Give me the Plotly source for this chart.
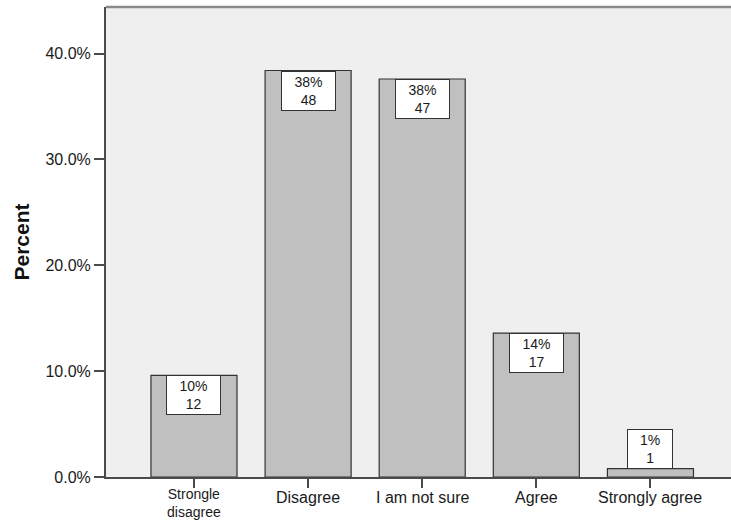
import plotly.graph_objects as go

# Survey response counts by answer category
categories = ["Strongle<br>disagree", "Disagree", "I am not sure", "Agree", "Strongly agree"]
counts = [12, 48, 47, 17, 1]
y_ticks = [0, 10, 20, 30, 40]
y_tick_labels = ["0.0%", "10.0%", "20.0%", "30.0%", "40.0%"]

total = sum(counts)
percents = [c / total * 100 for c in counts]

FONT = "Liberation Sans, Arial, sans-serif"
AXIS_COLOR = "#4a4a4a"
TEXT_COLOR = "#1a1a1a"
FS = 16
LABEL_FS = 14

fig = go.Figure()
fig.add_trace(go.Bar(
    x=list(range(len(categories))),
    y=percents,
    width=0.754,
    marker=dict(color="#c0c0c0", line=dict(color="#333333", width=1.2)),
    hoverinfo="skip",
))

# White value boxes: percentage and count, at the top inside the bar when it fits,
# otherwise sitting on top of the bar
BOX_H = 40
px_per_unit = 10.58
for i, (p, c) in enumerate(zip(percents, counts)):
    pct_txt = f"{p:.0f}%"
    n_digits = len(pct_txt) - 1
    box_w = 0.556 * FS * n_digits + 0.889 * FS + 21
    inside = p * px_per_unit > BOX_H + 2
    fig.add_annotation(
        x=i, y=p, xref="x", yref="y",
        text=f"{pct_txt}<br>{c}",
        showarrow=False,
        xanchor="center", yanchor="top" if inside else "bottom",
        width=box_w, height=BOX_H - 2,
        align="center", valign="middle",
        bgcolor="white", bordercolor="#333333", borderwidth=1, borderpad=0,
        font=dict(family=FONT, size=LABEL_FS, color=TEXT_COLOR),
    )

# Category labels below the axis
for i, cat in enumerate(categories):
    n_lines = cat.count("<br>") + 1
    fs = FS if n_lines == 1 else LABEL_FS
    fig.add_annotation(
        x=i, y=0, xref="x", yref="y", text=cat, showarrow=False,
        xanchor="center", yanchor="middle",
        yshift=-20.5 if n_lines == 1 else -26,
        font=dict(family=FONT, size=fs, color=TEXT_COLOR),
    )

# Grey frame line along the top of the plot area
fig.add_shape(type="line", xref="paper", yref="paper", x0=0, x1=1, y0=1, y1=1,
              line=dict(color="#8a8a8a", width=2.5))

fig.update_layout(
    width=731, height=520,
    margin=dict(l=106, r=0, t=7, b=43),
    paper_bgcolor="white",
    plot_bgcolor="#efefef",
    showlegend=False,
    font=dict(family=FONT, size=FS, color=TEXT_COLOR),
    xaxis=dict(
        tickmode="array",
        tickvals=list(range(len(categories))),
        showticklabels=False,
        range=[-0.771, 4.706],
        showline=True, linecolor=AXIS_COLOR, linewidth=1.5,
        ticks="outside", ticklen=9, tickwidth=1.5, tickcolor=AXIS_COLOR,
        showgrid=False, zeroline=False,
    ),
    yaxis=dict(
        range=[0, 44.4],
        tickvals=y_ticks,
        ticktext=y_tick_labels,
        showline=True, linecolor=AXIS_COLOR, linewidth=2,
        ticks="outside", ticklen=10, tickwidth=2, tickcolor=AXIS_COLOR,
        showgrid=False, zeroline=False,
        tickfont=dict(family=FONT, size=FS, color=TEXT_COLOR),
        title=dict(text="<b>Percent</b>", standoff=10,
                   font=dict(family=FONT, size=21, color="#111111")),
    ),
)

fig.write_html("out.html")
